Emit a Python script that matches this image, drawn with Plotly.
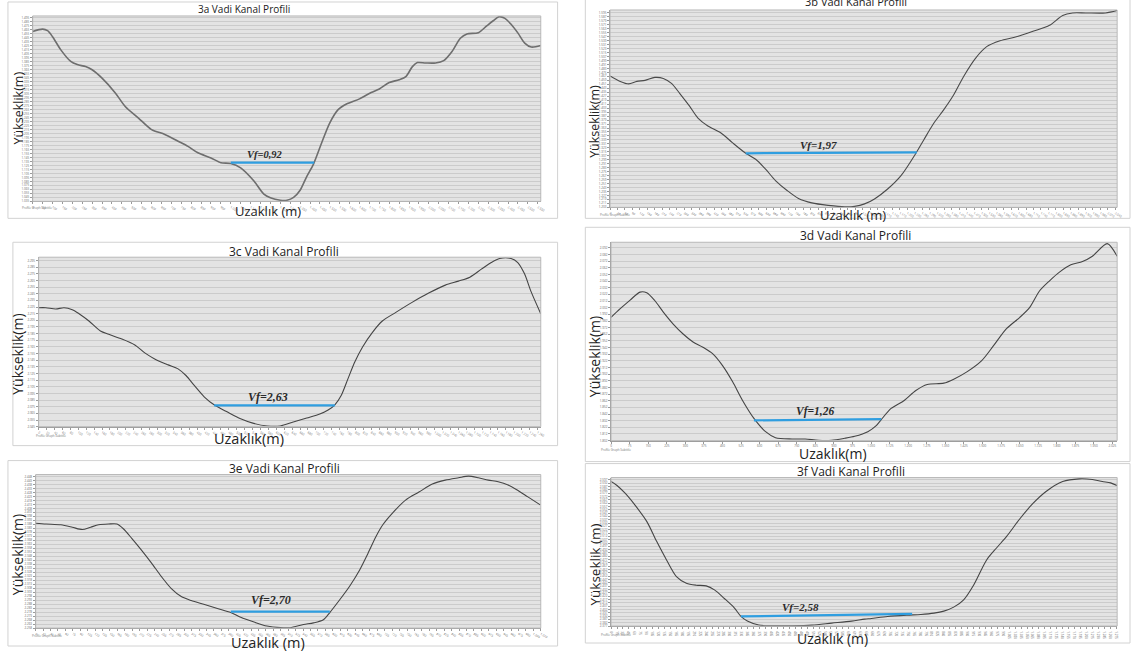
import plotly.graph_objects as go

W, H = 1140, 653

# ---------------- valley cross-section profiles: distance (m) / elevation (m) ----------------
dist_3a = [0, 50, 75, 100, 142, 192, 225, 267, 300, 350, 417, 467, 534, 600, 667, 734, 784, 834, 900, 950,
           1000, 1050, 1117, 1167, 1200, 1250, 1284, 1317, 1350, 1384, 1417, 1459, 1500, 1542, 1584, 1650,
           1709, 1750, 1800, 1850, 1884, 1917, 1942, 1984, 2034, 2075, 2117, 2159, 2192, 2250, 2292, 2325,
           2354, 2384, 2417, 2450, 2484, 2517, 2565]
elev_3a = [1461, 1467, 1463, 1448, 1415, 1386, 1378, 1373, 1365, 1344, 1307, 1273, 1244, 1215, 1203, 1186,
           1173, 1157, 1144, 1132, 1130, 1119, 1086, 1053, 1044, 1038, 1038, 1045, 1063, 1098, 1128, 1182,
           1232, 1265, 1279, 1292, 1308, 1317, 1333, 1340, 1348, 1373, 1383, 1382, 1382, 1388, 1411, 1444,
           1455, 1458, 1475, 1488, 1498, 1494, 1478, 1457, 1432, 1422, 1426]

dist_3b = [0, 41, 75, 108, 141, 181, 215, 248, 281, 321, 355, 395, 448, 495, 548, 588, 628, 668, 715, 761,
           815, 881, 948, 988, 1028, 1068, 1121, 1175, 1235, 1268, 1308, 1348, 1388, 1428, 1475, 1521, 1575,
           1641, 1708, 1775, 1828, 1868, 1921, 2001, 2048]
elev_3b = [1468, 1457, 1452, 1457, 1459, 1465, 1463, 1453, 1433, 1407, 1383, 1367, 1353, 1333, 1312, 1300,
           1280, 1257, 1237, 1221, 1212, 1207, 1204, 1205, 1210, 1220, 1240, 1267, 1312, 1340, 1373, 1400,
           1430, 1467, 1503, 1527, 1539, 1547, 1558, 1570, 1590, 1595, 1595, 1595, 1600]

dist_3c = [0, 18, 43, 64, 85, 102, 127, 156, 177, 210, 243, 268, 293, 327, 352, 372, 393, 418, 443, 477,
           510, 543, 577, 610, 643, 677, 710, 731, 748, 764, 781, 798, 818, 843, 868, 902, 943, 985, 1027,
           1060, 1089, 1118, 1143, 1164, 1193, 1210, 1227, 1243, 1268]
elev_3c = [2224, 2224, 2222, 2224, 2221, 2215, 2204, 2189, 2184, 2177, 2168, 2156, 2147, 2138, 2132, 2122,
           2107, 2090, 2078, 2067, 2057, 2050, 2046, 2046, 2052, 2058, 2064, 2070, 2078, 2092, 2117, 2142,
           2165, 2187, 2204, 2217, 2232, 2246, 2258, 2264, 2270, 2282, 2292, 2298, 2298, 2292, 2275, 2249, 2215]

dist_3d = [0, 37, 77, 117, 144, 177, 211, 251, 291, 331, 371, 411, 451, 491, 531, 577, 624, 664, 731, 784,
           837, 891, 944, 984, 1037, 1071, 1091, 1131, 1184, 1231, 1277, 1344, 1384, 1437, 1497, 1544, 1597,
           1651, 1691, 1731, 1771, 1811, 1857, 1904, 1944, 2004, 2044]
elev_3d = [1987, 2000, 2013, 2025, 2024, 2012, 1995, 1977, 1962, 1950, 1942, 1932, 1914, 1890, 1862, 1835,
           1815, 1806, 1804, 1804, 1802, 1802, 1805, 1808, 1815, 1824, 1833, 1850, 1862, 1877, 1886, 1888,
           1894, 1905, 1922, 1944, 1970, 1987, 2002, 2027, 2042, 2055, 2066, 2071, 2079, 2098, 2079]

dist_3e = [0, 21, 51, 74, 94, 111, 127, 147, 164, 177, 194, 214, 234, 254, 274, 294, 314, 341, 367, 394,
           414, 441, 467, 494, 514, 541, 561, 581, 594, 614, 634, 654, 671, 687, 701, 721, 747, 774, 801,
           827, 854, 874, 894, 914, 934, 954, 974, 994, 1019]
elev_3e = [2389, 2388, 2387, 2384, 2381, 2384, 2387, 2388, 2388, 2382, 2370, 2355, 2339, 2322, 2307, 2297,
           2292, 2287, 2282, 2277, 2271, 2265, 2260, 2258, 2258, 2262, 2264, 2268, 2277, 2293, 2310, 2330,
           2351, 2372, 2387, 2402, 2418, 2428, 2438, 2443, 2446, 2448, 2446, 2443, 2441, 2437, 2430, 2422, 2412]

dist_3f = [0, 15, 36, 61, 90, 115, 140, 165, 190, 215, 240, 261, 286, 311, 328, 344, 373, 407, 457, 507,
           557, 607, 640, 657, 698, 748, 782, 815, 840, 865, 890, 915, 948, 973, 998, 1032, 1065, 1098,
           1140, 1182, 1215, 1240, 1261, 1277]
elev_3f = [2594, 2588, 2576, 2558, 2534, 2504, 2476, 2451, 2441, 2438, 2437, 2431, 2418, 2404, 2391, 2384,
           2378, 2377, 2377, 2378, 2381, 2384, 2387, 2388, 2391, 2393, 2394, 2396, 2399, 2405, 2416, 2438,
           2476, 2494, 2511, 2538, 2561, 2579, 2594, 2598, 2597, 2594, 2592, 2588]

# valley-floor width lines (Vf): end distances and elevations, plus the Vf ratio
vf_dist = {"3a": [1000, 1421], "3b": [548, 1239], "3c": [443, 748],
           "3d": [577, 1091], "3e": [394, 594], "3f": [328, 760]}
vf_elev = {"3a": [1132, 1132], "3b": [1312, 1314], "3c": [2077, 2077],
           "3d": [1832, 1834], "3e": [2278, 2278], "3f": [2391, 2395]}
vf_ratio = {"3a": "0,92", "3b": "1,97", "3c": "2,63", "3d": "1,26", "3e": "2,70", "3f": "2,58"}

profiles = {"3a": (dist_3a, elev_3a), "3b": (dist_3b, elev_3b), "3c": (dist_3c, elev_3c),
            "3d": (dist_3d, elev_3d), "3e": (dist_3e, elev_3e), "3f": (dist_3f, elev_3f)}

# ---------------- panel layout (pixel boxes on the 1140x653 page) ----------------
panels = [
    dict(key="3a", box=(30, 16, 543, 202), card=(5, 2, 560, 219), xr=(0, 2565), yr=(1035, 1500),
         xdt=50, ydt=10, title=(243, 9, 10), ytitle=("Yükseklik(m)", 16, 108, 12.5),
         xtitle=("Uzaklık (m)", 268, 212, 13), lab=(265, 155, 10.5), sub=(34, 209),
         lc="#6e6e6e", lw=1.6),
    dict(key="3b", box=(613, 10, 1125, 208), card=(588, -2, 1138, 219), xr=(0, 2048), yr=(1203, 1601),
         xdt=30, ydt=8, title=(861, 2, 11), ytitle=("Yükseklik(m)", 597, 122, 12.5),
         xtitle=("Uzaklık (m)", 858, 216, 13), lab=(823, 145, 11), sub=(618, 216),
         lc="#4a4a4a", lw=1.1),
    dict(key="3c", box=(36, 258, 543, 428), card=(10, 243, 560, 447), xr=(0, 1268), yr=(2045, 2300),
         xdt=20, ydt=10, title=(284, 252, 12), ytitle=("Yükseklik(m)", 15, 355, 14),
         xtitle=("Uzaklık(m)", 248, 440, 14.5), lab=(268, 398, 12), sub=(48, 437),
         lc="#454545", lw=1.1),
    dict(key="3d", box=(614, 243, 1125, 442), card=(588, 228, 1138, 463), xr=(0, 2044), yr=(1801.5, 2100),
         xdt=75, ydt=10, title=(861, 236, 12), ytitle=("Yükseklik(m)", 598, 358, 14),
         xtitle=("Uzaklık(m)", 838, 455, 14), lab=(820, 413, 11.5), sub=(619, 451),
         lc="#454545", lw=1.1),
    dict(key="3e", box=(33, 476, 543, 630), card=(5, 462, 560, 648), xr=(0, 1020), yr=(2257.5, 2450),
         xdt=15, ydt=5, title=(284, 470, 12), ytitle=("Yükseklik(m)", 14, 556, 14),
         xtitle=("Uzaklık (m)", 268, 644, 14.5), lab=(271, 602, 12), sub=(44, 638),
         lc="#454545", lw=1.1),
    dict(key="3f", box=(614, 479, 1125, 628), card=(588, 465, 1138, 645), xr=(0, 1277.5), yr=(2376.5, 2600),
         xdt=15, ydt=5, title=(856, 473, 12), ytitle=("Yükseklik (m)", 598, 566, 13.5),
         xtitle=("Uzaklık (m)", 838, 640, 14), lab=(805, 609, 11), sub=(619, 637),
         lc="#454545", lw=1.1),
]

FONT = "Open Sans, Liberation Sans, sans-serif"
VF_FONT = "Liberation Serif, DejaVu Serif, serif"
VF_BLUE = "#2f9ee0"


def px_x(x):
    return x / W


def px_y(y):
    return 1 - y / H


fig = go.Figure()
shapes, annotations = [], []
layout_axes = {}

for i, p in enumerate(panels, start=1):
    k = p["key"]
    xa, ya = ("x", "y") if i == 1 else (f"x{i}", f"y{i}")
    xname, yname = ("xaxis", "yaxis") if i == 1 else (f"xaxis{i}", f"yaxis{i}")
    x0, y0, x1, y1 = p["box"]

    dist, elev = profiles[k]
    fig.add_trace(go.Scatter(x=dist, y=elev, mode="lines", xaxis=xa, yaxis=ya,
                             line=dict(color=p["lc"], width=p["lw"], shape="spline", smoothing=0.8),
                             hoverinfo="skip", showlegend=False))
    fig.add_trace(go.Scatter(x=vf_dist[k], y=vf_elev[k], mode="lines", xaxis=xa, yaxis=ya,
                             line=dict(color=VF_BLUE, width=2.2),
                             hoverinfo="skip", showlegend=False))

    layout_axes[xname] = dict(
        domain=[px_x(x0), px_x(x1)], range=list(p["xr"]), anchor=ya,
        showgrid=False, zeroline=False, showline=True, linecolor="#9a9a9a", linewidth=1,
        ticks="outside", ticklen=2, tickcolor="#9a9a9a", tickwidth=1,
        dtick=p["xdt"], tick0=0, tickformat=",d",
        tickfont=dict(size=3, color="#666666", family=FONT), fixedrange=True)
    layout_axes[yname] = dict(
        domain=[px_y(y1), px_y(y0)], range=list(p["yr"]), anchor=xa,
        showgrid=True, gridcolor="#cbcbcb", gridwidth=1, zeroline=False,
        showline=True, linecolor="#9a9a9a", linewidth=1,
        ticks="outside", ticklen=2, tickcolor="#9a9a9a", tickwidth=1,
        dtick=p["ydt"], tick0=p["yr"][0], tickformat=",d",
        tickfont=dict(size=3, color="#666666", family=FONT), fixedrange=True)

    # plot-area frame
    shapes.append(dict(type="rect", xref=f"{xa} domain", yref=f"{ya} domain", x0=0, x1=1, y0=0, y1=1,
                       line=dict(color="#b8b8b8", width=1), fillcolor="rgba(0,0,0,0)", layer="above"))
    # card outline
    cx0, cy0, cx1, cy1 = p["card"]
    shapes.append(dict(type="rect", xref="paper", yref="paper",
                       x0=px_x(cx0), x1=px_x(cx1), y0=px_y(cy1), y1=px_y(cy0),
                       line=dict(color="#d2d2d2", width=1), fillcolor="rgba(0,0,0,0)", layer="below"))

    tx, ty, ts = p["title"]
    annotations.append(dict(text=f"{k} Vadi Kanal Profili", xref="paper", yref="paper",
                            x=px_x(tx), y=px_y(ty), xanchor="center", yanchor="middle",
                            showarrow=False, font=dict(family=FONT, size=ts, color="#222222")))
    yt, yx, yy, ys = p["ytitle"]
    annotations.append(dict(text=yt, xref="paper", yref="paper", x=px_x(yx), y=px_y(yy),
                            xanchor="center", yanchor="middle", textangle=-90, showarrow=False,
                            font=dict(family=FONT, size=ys, color="#222222")))
    xt, xx, xy, xs = p["xtitle"]
    annotations.append(dict(text=xt, xref="paper", yref="paper", x=px_x(xx), y=px_y(xy),
                            xanchor="center", yanchor="middle", showarrow=False,
                            font=dict(family=FONT, size=xs, color="#222222")))
    lx, ly, ls = p["lab"]
    annotations.append(dict(text=f"<b><i>Vf={vf_ratio[k]}</i></b>", xref="paper", yref="paper",
                            x=px_x(lx), y=px_y(ly), xanchor="center", yanchor="middle",
                            showarrow=False, font=dict(family=VF_FONT, size=ls, color="#2a2a2a")))
    sx, sy = p["sub"]
    annotations.append(dict(text="Profile Graph Subtitle", xref="paper", yref="paper",
                            x=px_x(sx), y=px_y(sy), xanchor="center", yanchor="middle",
                            showarrow=False, font=dict(family=FONT, size=3, color="#777777")))

fig.update_layout(
    width=W, height=H, autosize=False,
    margin=dict(l=0, r=0, t=0, b=0, pad=0),
    paper_bgcolor="white", plot_bgcolor="#e3e3e3",
    separators=",.",
    showlegend=False,
    shapes=shapes, annotations=annotations,
    **layout_axes,
)

fig.write_html("out.html", config={"displayModeBar": False})
